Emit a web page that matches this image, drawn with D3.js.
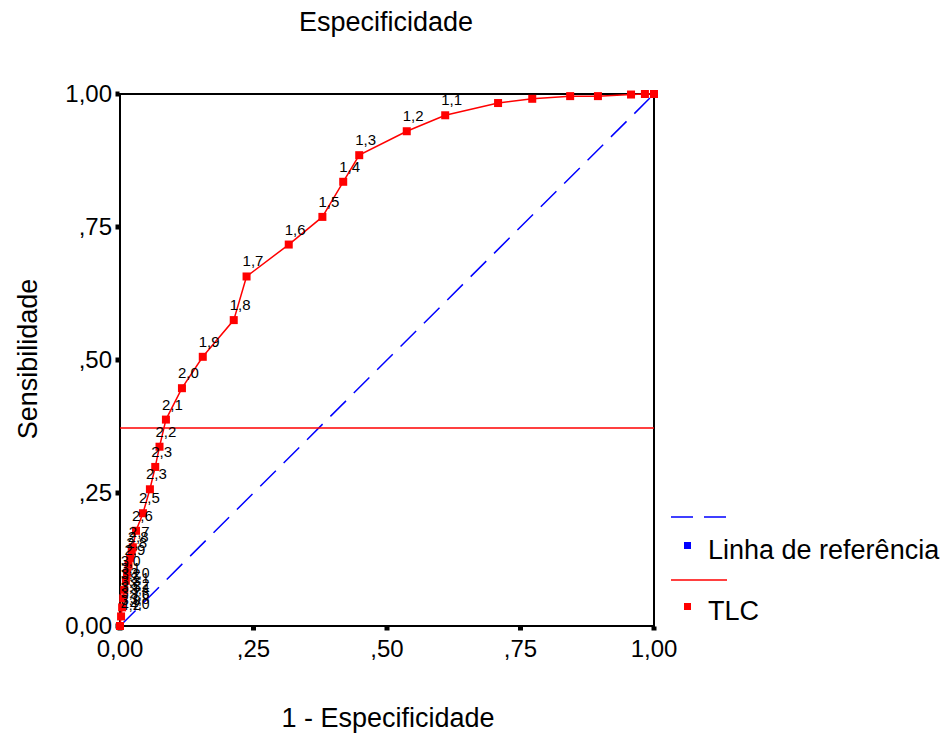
<!DOCTYPE html>
<html>
<head>
<meta charset="utf-8">
<script src="https://cdn.jsdelivr.net/npm/d3@7"></script>
<style>
  body { margin: 0; background: #fff; }
  text { font-family: "Liberation Sans", Arial, sans-serif; fill: #000; }
</style>
</head>
<body>
<div id="chart"></div>
<script>
// ROC curve data (1 - especificidade, sensibilidade)
var fpr = [0, 0.002, 0.004, 0.006, 0.008, 0.011, 0.013, 0.016, 0.019, 0.022, 0.024, 0.030, 0.043,
           0.056, 0.066, 0.074, 0.086, 0.116, 0.155, 0.213, 0.237, 0.316, 0.379, 0.418, 0.448,
           0.537, 0.609, 0.708, 0.772, 0.843, 0.895, 0.957, 0.983, 1];
var tpr = [0, 0.018, 0.035, 0.052, 0.068, 0.085, 0.1, 0.115, 0.128, 0.14, 0.148, 0.179, 0.212,
           0.257, 0.299, 0.337, 0.388, 0.447, 0.506, 0.575, 0.657, 0.717, 0.769, 0.835, 0.885,
           0.930, 0.960, 0.983, 0.991, 0.996, 0.996, 0.999, 1, 1];
// cutoff labels ("" = not shown)
var cutLabels = ["", "", "", "", "", "", "", "2,9", "2,8", "2,8", "2,7", "2,6", "2,5",
                 "2,3", "2,3", "2,2", "2,1", "2,0", "1,9", "1,8", "1,7", "1,6", "1,5", "1,4", "1,3",
                 "1,2", "1,1", "", "", "", "", "", "", ""];

// dense overlapping labels in the lower-left corner
var lowLabelText = ["3,0", "3,1", "3,2", "3,3", "3,5", "3,7", "3,9", "4,2",
                    "3,0", "3,1", "3,2", "3,4", "3,6", "3,8", "4,0"];
var lowLabelX = [0.002, 0.002, 0.002, 0.002, 0.002, 0.002, 0.002, 0.002,
                 0.019, 0.019, 0.019, 0.019, 0.019, 0.019, 0.019];
var lowLabelY = [0.112, 0.100, 0.088, 0.076, 0.064, 0.052, 0.040, 0.030,
                 0.090, 0.080, 0.070, 0.060, 0.050, 0.041, 0.032];

var cutoffLine = 0.372;

var tickValues = [0, 0.25, 0.5, 0.75, 1];
var tickLabels = ["0,00", ",25", ",50", ",75", "1,00"];

var margin = {top: 94, left: 120},
    width = 534,
    height = 532;

var svg = d3.select("#chart")
  .append("svg")
    .attr("width", 946)
    .attr("height", 735);

var g = svg.append("g")
    .attr("transform", "translate(" + margin.left + "," + margin.top + ")");

var x = d3.scaleLinear().domain([0, 1]).range([0, width]);
var y = d3.scaleLinear().domain([0, 1]).range([height, 0]);

var points = fpr.map(function(d, i) { return {x: d, y: tpr[i], label: cutLabels[i]}; });

// frame
g.append("rect")
  .attr("x", 0).attr("y", 0)
  .attr("width", width).attr("height", height)
  .attr("fill", "none")
  .attr("stroke", "#000")
  .attr("stroke-width", 2);

// tick squares + labels
g.selectAll(".xt")
  .data(tickValues)
  .enter().append("rect")
  .attr("x", function(d) { return x(d) - 2.5; })
  .attr("y", height + 0.5)
  .attr("width", 5).attr("height", 4)
  .attr("fill", "#000");

g.selectAll(".xl")
  .data(tickValues)
  .enter().append("text")
  .attr("x", function(d) { return x(d); })
  .attr("y", height + 31)
  .attr("text-anchor", "middle")
  .style("font-size", "24px")
  .text(function(d, i) { return tickLabels[i]; });

g.selectAll(".yt")
  .data(tickValues)
  .enter().append("rect")
  .attr("x", -4.5)
  .attr("y", function(d) { return y(d) - 2.5; })
  .attr("width", 4).attr("height", 5)
  .attr("fill", "#000");

g.selectAll(".yl")
  .data(tickValues)
  .enter().append("text")
  .attr("x", -8)
  .attr("y", function(d) { return y(d) + 8; })
  .attr("text-anchor", "end")
  .style("font-size", "24px")
  .text(function(d, i) { return tickLabels[i]; });

// reference diagonal
g.append("line")
  .attr("x1", x(0)).attr("y1", y(0))
  .attr("x2", x(1)).attr("y2", y(1))
  .attr("stroke", "#0000ff")
  .attr("stroke-width", 1.5)
  .attr("stroke-dasharray", "22,11");

// horizontal red line
g.append("line")
  .attr("x1", x(0)).attr("x2", x(1))
  .attr("y1", y(cutoffLine)).attr("y2", y(cutoffLine))
  .attr("stroke", "#ff0000")
  .attr("stroke-width", 1.5);

// ROC curve
var line = d3.line()
  .x(function(d) { return x(d.x); })
  .y(function(d) { return y(d.y); });

g.append("path")
  .datum(points)
  .attr("d", line)
  .attr("fill", "none")
  .attr("stroke", "#ff0000")
  .attr("stroke-width", 1.5);

g.selectAll(".pt")
  .data(points)
  .enter().append("rect")
  .attr("x", function(d) { return x(d.x) - 4; })
  .attr("y", function(d) { return y(d.y) - 4; })
  .attr("width", 8).attr("height", 8)
  .attr("fill", "#ff0000");

// cutoff labels
g.selectAll(".cl")
  .data(points.filter(function(d) { return d.label !== ""; }))
  .enter().append("text")
  .attr("x", function(d) { return x(d.x) - 4; })
  .attr("y", function(d) { return y(d.y) - 10; })
  .style("font-size", "15px")
  .text(function(d) { return d.label; });

g.selectAll(".ll")
  .data(lowLabelText)
  .enter().append("text")
  .attr("x", function(d, i) { return x(lowLabelX[i]); })
  .attr("y", function(d, i) { return y(lowLabelY[i]); })
  .style("font-size", "14px")
  .text(function(d) { return d; });

// titles
svg.append("text")
  .attr("x", 386).attr("y", 31)
  .attr("text-anchor", "middle")
  .style("font-size", "27px")
  .text("Especificidade");

svg.append("text")
  .attr("x", 388).attr("y", 727)
  .attr("text-anchor", "middle")
  .style("font-size", "27px")
  .text("1 - Especificidade");

svg.append("text")
  .attr("transform", "translate(37,359) rotate(-90)")
  .attr("text-anchor", "middle")
  .style("font-size", "27px")
  .text("Sensibilidade");

// legend
var legend = svg.append("g");
legend.append("line")
  .attr("x1", 671).attr("x2", 728)
  .attr("y1", 517).attr("y2", 517)
  .attr("stroke", "#0000ff")
  .attr("stroke-width", 1.5)
  .attr("stroke-dasharray", "22,11");
legend.append("rect")
  .attr("x", 684).attr("y", 542)
  .attr("width", 7).attr("height", 7)
  .attr("fill", "#0000ff");
legend.append("text")
  .attr("x", 708).attr("y", 559)
  .style("font-size", "27px")
  .text("Linha de referência");

legend.append("line")
  .attr("x1", 671).attr("x2", 727)
  .attr("y1", 580).attr("y2", 580)
  .attr("stroke", "#ff0000")
  .attr("stroke-width", 1.5);
legend.append("rect")
  .attr("x", 684).attr("y", 603)
  .attr("width", 7).attr("height", 7)
  .attr("fill", "#ff0000");
legend.append("text")
  .attr("x", 708).attr("y", 620)
  .style("font-size", "27px")
  .text("TLC");
</script>
</body>
</html>
